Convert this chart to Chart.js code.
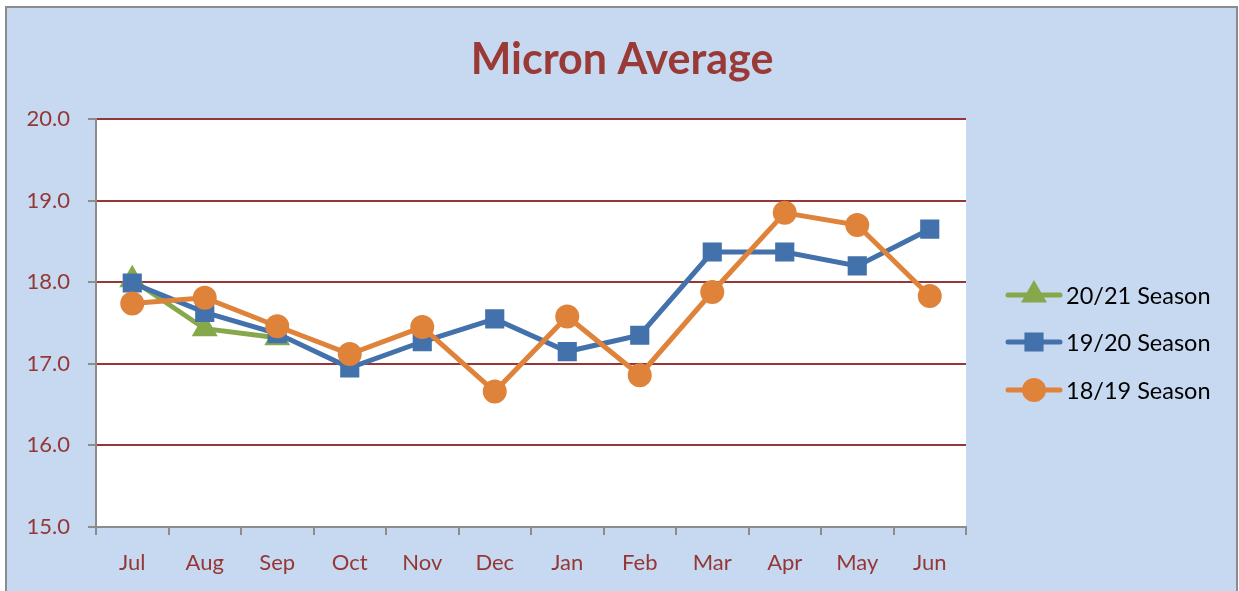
<!DOCTYPE html>
<html>
<head>
<meta charset="utf-8">
<script src="https://cdn.jsdelivr.net/npm/chart.js@4.4.1/dist/chart.umd.min.js"></script>
<style>
  html, body { margin: 0; padding: 0; background: #ffffff; }
  #wrap { width: 1239px; height: 591px; }
</style>
</head>
<body>
<div id="wrap"><canvas id="micronChart" width="1239" height="591"></canvas></div>
<script>
// Datos
const months = ["Jul", "Aug", "Sep", "Oct", "Nov", "Dec", "Jan", "Feb", "Mar", "Apr", "May", "Jun"];
const season2021 = [18.03, 17.43, 17.32, null, null, null, null, null, null, null, null, null];
const season1920 = [17.99, 17.63, 17.37, 16.95, 17.27, 17.55, 17.15, 17.35, 18.37, 18.37, 18.20, 18.65];
const season1819 = [17.74, 17.81, 17.46, 17.12, 17.45, 16.66, 17.58, 16.86, 17.88, 18.85, 18.70, 17.83];
const seasonLabels = ["20/21 Season", "19/20 Season", "18/19 Season"];

const darkRed = "#953735";
const axisGray = "#8c8c8c";
const fontFamily = "Lato, 'Open Sans', sans-serif";

// Fondo, marco y titulo
const backgroundPlugin = {
  id: "backgroundPlugin",
  beforeDraw(chart) {
    const c = chart.ctx;
    const area = chart.chartArea;
    c.save();
    c.fillStyle = "#c6d9f0";
    c.fillRect(6, 7, 1232, 600);
    c.strokeStyle = axisGray;
    c.lineWidth = 2;
    c.strokeRect(6, 7, 1231, 600);
    c.fillStyle = "#ffffff";
    c.fillRect(area.left, area.top, area.right - area.left, area.bottom - area.top);
    c.fillStyle = "#9a3a36";
    c.font = "bold 43px " + fontFamily;
    c.textAlign = "center";
    c.textBaseline = "middle";
    c.fillText("Micron Average", 622, 60);
    c.restore();
  },
};

// Leyenda con linea y marcador
const legendPlugin = {
  id: "legendPlugin",
  afterDraw(chart) {
    const c = chart.ctx;
    const rows = [295, 342, 390];
    c.save();
    chart.data.datasets.forEach((ds, i) => {
      const y = rows[i];
      c.strokeStyle = ds.borderColor;
      c.lineWidth = 5;
      c.lineCap = "round";
      c.beginPath();
      c.moveTo(1008, y);
      c.lineTo(1060, y);
      c.stroke();
      Chart.helpers.drawPoint(c, {
        pointStyle: ds.pointStyle,
        radius: ds.pointRadius,
        borderWidth: 1,
        rotation: 0,
      }, 1034, y);
      c.fillStyle = ds.borderColor;
      c.fill();
      c.fillStyle = "#000000";
      c.font = "23.5px " + fontFamily;
      c.textAlign = "left";
      c.textBaseline = "middle";
      c.fillText(ds.label, 1066, y + 1);
    });
    c.restore();
  },
};

const ctx = document.getElementById("micronChart").getContext("2d");
const micronChart = new Chart(ctx, {
  type: "line",
  data: {
    labels: months,
    datasets: [
      {
        label: seasonLabels[0],
        data: season2021,
        borderColor: "#86a84a",
        backgroundColor: "#86a84a",
        pointStyle: "triangle",
        pointRadius: 10,
        borderWidth: 5,
        order: 3,
      },
      {
        label: seasonLabels[1],
        data: season1920,
        borderColor: "#4271ab",
        backgroundColor: "#4271ab",
        pointStyle: "rect",
        pointRadius: 10,
        borderWidth: 5,
        order: 2,
      },
      {
        label: seasonLabels[2],
        data: season1819,
        borderColor: "#df833a",
        backgroundColor: "#df833a",
        pointStyle: "circle",
        pointRadius: 9.5,
        borderWidth: 5,
        order: 1,
      },
    ],
  },
  options: {
    responsive: false,
    animation: false,
    layout: { padding: { top: 119, right: 273, bottom: 0, left: 0 } },
    elements: {
      line: { tension: 0 },
      point: { borderWidth: 1, hoverRadius: 10 },
    },
    scales: {
      x: {
        offset: true,
        grid: {
          offset: true,
          drawOnChartArea: false,
          tickLength: 8,
          tickColor: axisGray,
          lineWidth: 2,
        },
        border: { color: axisGray, width: 2 },
        ticks: {
          color: darkRed,
          font: { family: fontFamily, size: 22 },
          padding: 15,
          maxRotation: 0,
        },
        afterFit(scale) {
          scale.height = 64;
        },
      },
      y: {
        min: 15,
        max: 20,
        ticks: {
          stepSize: 1,
          color: darkRed,
          font: { family: fontFamily, size: 22 },
          padding: 18,
          callback: (v) => Number(v).toFixed(1),
        },
        grid: {
          color: (c) => (c.tick && c.tick.value === 15 ? "rgba(0,0,0,0)" : darkRed),
          lineWidth: 2,
          tickLength: 8,
          tickColor: axisGray,
        },
        border: { color: axisGray, width: 2 },
        afterFit(scale) {
          scale.width = 96;
        },
      },
    },
    plugins: {
      legend: { display: false },
      title: { display: false },
      tooltip: { enabled: false },
    },
  },
  plugins: [backgroundPlugin, legendPlugin],
});
</script>
</body>
</html>
